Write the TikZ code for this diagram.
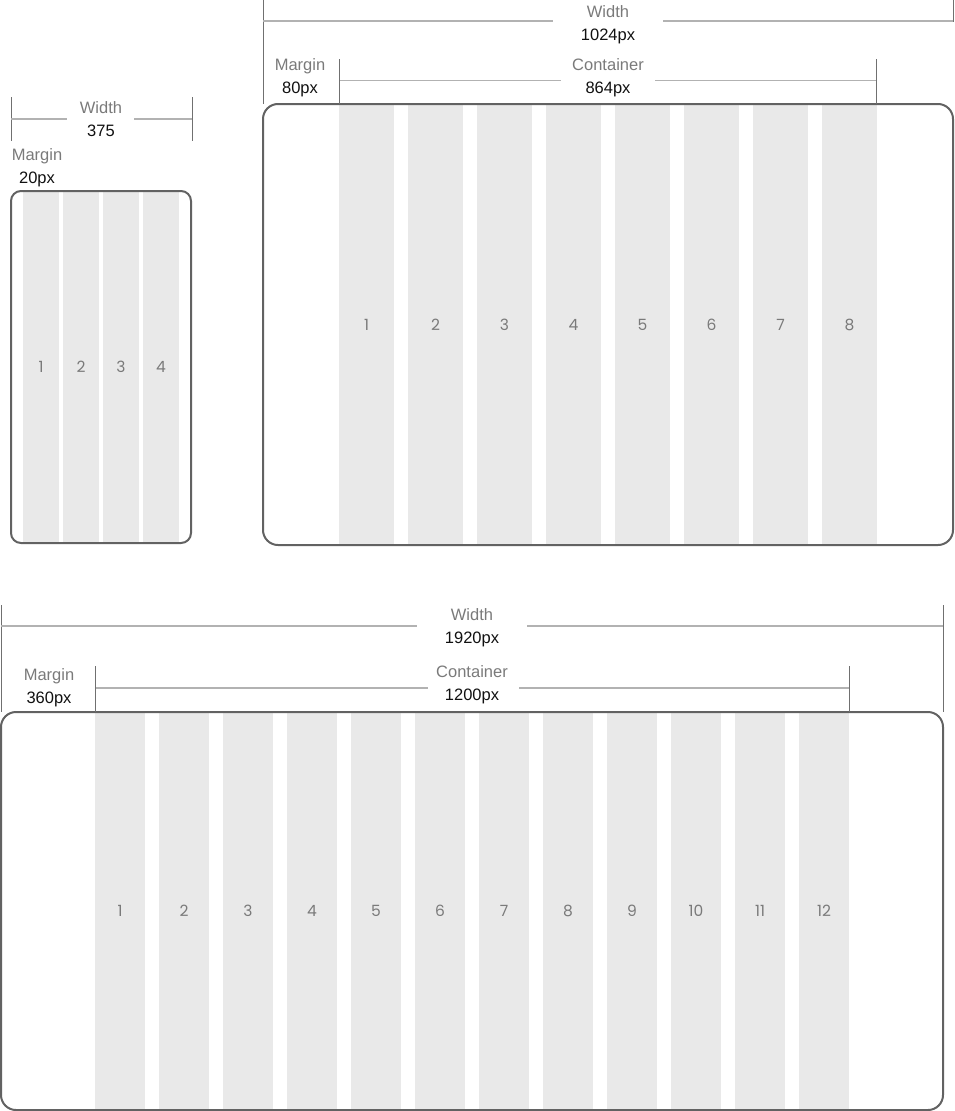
\documentclass[tikz,border=0pt]{standalone}
\usepackage{fontspec}
\setmainfont{Liberation Sans}
\newfontfamily\numfont{Poppins}
\definecolor{framec}{HTML}{626262}
\definecolor{colfill}{HTML}{E9E9E9}
\definecolor{dimc}{HTML}{B2B2B2}
\definecolor{tickc}{HTML}{707070}
\definecolor{lblc}{HTML}{7A7A7A}
\definecolor{valc}{HTML}{111111}
\begin{document}
\begin{tikzpicture}[x=1pt,y=-1pt,
  devframe/.style={draw=framec, line width=2pt, inner sep=0pt, outer sep=0pt},
  gridcol/.style={fill=colfill, draw=none, inner sep=0pt, outer sep=0pt,
    text height=11pt, text depth=0pt,
    font=\numfont\fontsize{15.5}{18}\selectfont, text=lblc},
  dimlbl/.style={font=\fontsize{16.5}{19}\selectfont, text=lblc, inner sep=0pt, anchor=base},
  dimval/.style={font=\fontsize{16.5}{19}\selectfont, text=valc, inner sep=0pt, anchor=base},
  dimline/.style={draw=dimc, line width=1.5pt},
  tickline/.style={draw=tickc, line width=1pt}
]
\useasboundingbox (0,0) rectangle (954,1111);

% ---------- Mobile ----------
\foreach \i/\x in {1/41,2/81,3/121,4/161}
  \node[gridcol, minimum width=36pt, minimum height=350pt] (mc\i) at (\x,367) {\i};
\node[devframe, rounded corners=10pt, minimum width=180pt, minimum height=352pt] (mframe) at (101,367) {};

\node[dimlbl] (mwl) at (101,113) {Width};
\node[dimval] (mwv) at (101,136) {375};
\node[dimlbl] (mml) at (37,160) {Margin};
\node[dimval] (mmv) at (37,183) {20px};
\coordinate (mt1a) at (11,97); \coordinate (mt1b) at (11,141);
\coordinate (mt2a) at (192,97); \coordinate (mt2b) at (192,141);
\coordinate (mh1) at (11,119); \coordinate (mh2) at (67,119);
\coordinate (mh3) at (134,119); \coordinate (mh4) at (192,119);
\draw[tickline] (mt1a) -- (mt1b);
\draw[tickline] (mt2a) -- (mt2b);
\draw[dimline] (mh1) -- (mh2);
\draw[dimline] (mh3) -- (mh4);

% ---------- Tablet ----------
\foreach \i in {1,...,8}
  \node[gridcol, minimum width=55pt, minimum height=439pt] (tc\i) at ({366.5+69*(\i-1)},324.5) {\i};
\node[devframe, rounded corners=15pt, minimum width=690pt, minimum height=441pt] (tframe) at (608,324.5) {};

\node[dimlbl] (twl) at (608,17) {Width};
\node[dimval] (twv) at (608,40) {1024px};
\node[dimlbl] (tcl) at (608,70) {Container};
\node[dimval] (tcv) at (608,93) {864px};
\node[dimlbl] (tml) at (300,70) {Margin};
\node[dimval] (tmv) at (300,93) {80px};
\coordinate (tt1a) at (263,0); \coordinate (tt1b) at (263,104);
\coordinate (tt2a) at (953,0); \coordinate (tt2b) at (953,22);
\coordinate (th1) at (263,21); \coordinate (th2) at (553,21);
\coordinate (th3) at (663,21); \coordinate (th4) at (953,21);
\draw[tickline] (tt1a) -- (tt1b);
\draw[tickline] (tt2a) -- (tt2b);
\draw[dimline] (th1) -- (th2);
\draw[dimline] (th3) -- (th4);
\coordinate (tc1a) at (339.5,59); \coordinate (tc1b) at (339.5,104);
\coordinate (tc2a) at (876.5,59); \coordinate (tc2b) at (876.5,104);
\coordinate (tk1) at (340,80.5); \coordinate (tk2) at (561,80.5);
\coordinate (tk3) at (655,80.5); \coordinate (tk4) at (876,80.5);
\draw[tickline] (tc1a) -- (tc1b);
\draw[tickline] (tc2a) -- (tc2b);
\draw[dimline] (tk1) -- (tk2);
\draw[dimline] (tk3) -- (tk4);

% ---------- Desktop ----------
\foreach \i in {1,...,12}
  \node[gridcol, minimum width=50pt, minimum height=396pt] (dc\i) at ({120+64*(\i-1)},911) {\i};
\node[devframe, rounded corners=15pt, minimum width=942pt, minimum height=398pt] (dframe) at (472,911) {};

\node[dimlbl] (dwl) at (472,620) {Width};
\node[dimval] (dwv) at (472,643) {1920px};
\node[dimlbl] (dcl) at (472,677) {Container};
\node[dimval] (dcv) at (472,700) {1200px};
\node[dimlbl] (dml) at (49,680) {Margin};
\node[dimval] (dmv) at (49,703) {360px};
\coordinate (dt1a) at (1,605); \coordinate (dt1b) at (1,712);
\coordinate (dt2a) at (943,605); \coordinate (dt2b) at (943,712);
\coordinate (dh1) at (1,626); \coordinate (dh2) at (417,626);
\coordinate (dh3) at (527,626); \coordinate (dh4) at (943,626);
\draw[tickline] (dt1a) -- (dt1b);
\draw[tickline] (dt2a) -- (dt2b);
\draw[dimline] (dh1) -- (dh2);
\draw[dimline] (dh3) -- (dh4);
\coordinate (dc1a) at (95.5,666); \coordinate (dc1b) at (95.5,712);
\coordinate (dc2a) at (849.5,666); \coordinate (dc2b) at (849.5,712);
\coordinate (dk1) at (96,688); \coordinate (dk2) at (428,688);
\coordinate (dk3) at (519,688); \coordinate (dk4) at (849,688);
\draw[tickline] (dc1a) -- (dc1b);
\draw[tickline] (dc2a) -- (dc2b);
\draw[dimline] (dk1) -- (dk2);
\draw[dimline] (dk3) -- (dk4);
\end{tikzpicture}
\end{document}
